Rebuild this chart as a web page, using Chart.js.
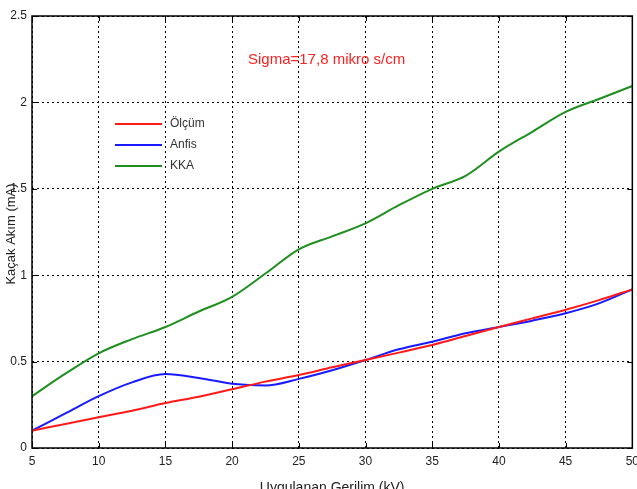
<!DOCTYPE html>
<html>
<head>
<meta charset="utf-8">
<script src="https://cdn.jsdelivr.net/npm/chart.js@4"></script>
<style>
  html, body { margin: 0; padding: 0; background: #fff; overflow: hidden; }
  #wrap { width: 637px; height: 489px; overflow: hidden; }
</style>
</head>
<body>
<div id="wrap"><canvas id="akimChart" width="645" height="489"></canvas></div>
<script>
// Veriler
const gerilim = [5, 7.5, 10, 12.5, 15, 17.5, 20, 22.5, 25, 27.5, 30, 32.5, 35, 37.5, 40, 42.5, 45, 47.5, 50];
const olcum = [0.10, 0.139, 0.178, 0.216, 0.26, 0.297, 0.34, 0.384, 0.422, 0.467, 0.509, 0.552, 0.596, 0.648, 0.70, 0.75, 0.80, 0.856, 0.918];
const anfis = [0.10, 0.20, 0.30, 0.38, 0.428, 0.405, 0.372, 0.362, 0.40, 0.45, 0.509, 0.571, 0.615, 0.664, 0.70, 0.737, 0.78, 0.837, 0.918];
const kka = [0.30, 0.43, 0.548, 0.63, 0.70, 0.79, 0.875, 1.01, 1.15, 1.225, 1.30, 1.405, 1.50, 1.575, 1.715, 1.83, 1.945, 2.02, 2.095];
const seriIsimleri = ['Ölçüm', 'Anfis', 'KKA'];
const seriRenkleri = ['#ff1a1a', '#1a1aff', '#1f8f1f'];
const yTicks = [0, 0.5, 1, 1.5, 2, 2.5];
const xTicks = [5, 10, 15, 20, 25, 30, 35, 40, 45, 50];
const notMetni = 'Sigma=17,8 mikro s/cm';
const xBaslik = 'Uygulanan Gerilim (kV)';
const yBaslik = 'Kaçak Akım (mA)';

const FONT = '"Liberation Sans", Arial, sans-serif';

// Çerçeve, iç tikler, eksen başlıkları, not ve lejant
const cizimEklentisi = {
    id: 'cizimEklentisi',
    afterDatasetsDraw(chart) {
        const ctx = chart.ctx;
        const a = chart.chartArea;
        const xs = chart.scales.x;
        const ys = chart.scales.y;
        ctx.save();

        // Çerçeve
        ctx.strokeStyle = '#000';
        ctx.lineWidth = 1.5;
        ctx.strokeRect(a.left, a.top, a.right - a.left, a.bottom - a.top);

        // İç tikler
        ctx.lineWidth = 1;
        xTicks.forEach(v => {
            const px = Math.round(xs.getPixelForValue(v)) + 0.5;
            ctx.beginPath();
            ctx.moveTo(px, a.bottom); ctx.lineTo(px, a.bottom - 5);
            ctx.moveTo(px, a.top); ctx.lineTo(px, a.top + 5);
            ctx.stroke();
        });
        yTicks.forEach(v => {
            const py = Math.round(ys.getPixelForValue(v)) + 0.5;
            ctx.beginPath();
            ctx.moveTo(a.left, py); ctx.lineTo(a.left + 5, py);
            ctx.moveTo(a.right, py); ctx.lineTo(a.right - 5, py);
            ctx.stroke();
        });

        // Eksen başlıkları
        ctx.fillStyle = '#222';
        ctx.font = '14px ' + FONT;
        ctx.textAlign = 'center';
        ctx.textBaseline = 'alphabetic';
        ctx.fillText(xBaslik, (a.left + a.right) / 2, 492);

        ctx.save();
        ctx.translate(15, (a.top + a.bottom) / 2 + 2);
        ctx.rotate(-Math.PI / 2);
        ctx.font = '13px ' + FONT;
        ctx.textBaseline = 'alphabetic';
        ctx.fillText(yBaslik, 0, 0);
        ctx.restore();

        // Not
        ctx.fillStyle = '#ff2020';
        ctx.font = '15px ' + FONT;
        ctx.textAlign = 'left';
        ctx.textBaseline = 'middle';
        ctx.fillText(notMetni, 248, 60);

        // Lejant
        ctx.font = '12px ' + FONT;
        chart.data.datasets.forEach((ds, i) => {
            const y = 124 + i * 21;
            ctx.strokeStyle = ds.borderColor;
            ctx.lineWidth = 2;
            ctx.beginPath();
            ctx.moveTo(115, y); ctx.lineTo(162, y);
            ctx.stroke();
            ctx.fillStyle = '#333';
            ctx.fillText(ds.label, 170, y);
        });

        ctx.restore();
    }
};

const datasets = [olcum, anfis, kka].map((seri, i) => ({
    label: seriIsimleri[i],
    data: seri.map((y, j) => ({ x: gerilim[j], y: y })),
    borderColor: seriRenkleri[i],
    borderWidth: 2,
    pointRadius: 0,
    fill: false,
    cubicInterpolationMode: 'monotone'
}));

new Chart(document.getElementById('akimChart'), {
    type: 'line',
    data: { datasets: datasets },
    options: {
        responsive: false,
        animation: false,
        layout: { padding: { left: 0, right: 0, top: 16, bottom: 0 } },
        plugins: {
            legend: { display: false },
            tooltip: { enabled: false }
        },
        scales: {
            x: {
                type: 'linear',
                min: 5,
                max: 50,
                afterBuildTicks: s => { s.ticks = xTicks.map(v => ({ value: v })); },
                afterFit: s => { s.height = 41; },
                grid: {
                    color: '#000',
                    lineWidth: 1,
                    tickLength: 0,
                    drawTicks: false
                },
                border: { display: false, dash: [2, 3] },
                ticks: {
                    color: '#222',
                    font: { family: FONT, size: 12 },
                    padding: 6,
                    maxRotation: 0,
                    autoSkip: false
                }
            },
            y: {
                min: 0,
                max: 2.5,
                afterBuildTicks: s => { s.ticks = yTicks.map(v => ({ value: v })); },
                afterFit: s => { s.width = 32; },
                grid: {
                    color: '#000',
                    lineWidth: 1,
                    tickLength: 0,
                    drawTicks: false
                },
                border: { display: false, dash: [2, 3] },
                ticks: {
                    color: '#222',
                    font: { family: FONT, size: 12 },
                    padding: 5,
                    callback: v => String(v)
                }
            }
        }
    },
    plugins: [cizimEklentisi]
});
</script>
</body>
</html>
